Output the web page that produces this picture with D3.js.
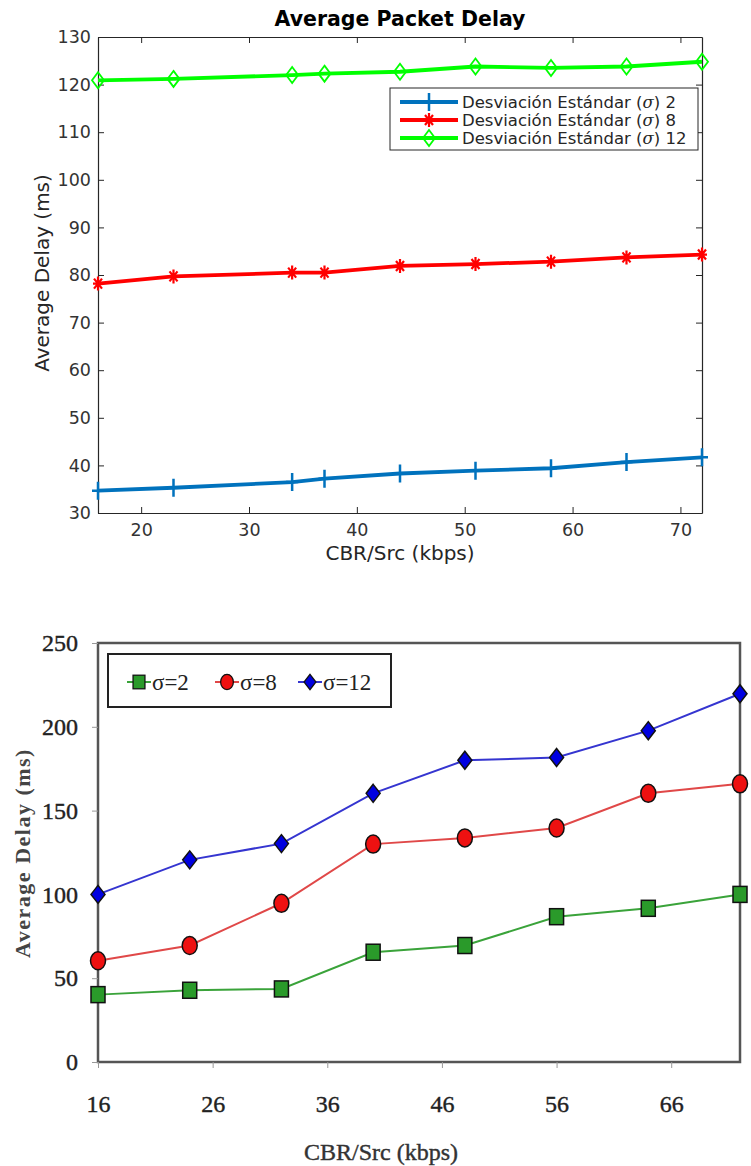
<!DOCTYPE html>
<meta charset="utf-8">
<head>
    <title>Average Packet Delay</title>
    <script type="text/javascript" src="https://cdn.jsdelivr.net/npm/d3@7/dist/d3.min.js"></script>
    <style>
        html, body { margin: 0; padding: 0; background: white; }
        svg { display: block; }
        .upper text { font-family: "DejaVu Sans", sans-serif; fill: #262626; }
        .lower text { font-family: "Liberation Serif", "Times New Roman", serif; fill: #333; }
    </style>
</head>
<body>
<svg id="chart" width="751" height="1166"></svg>
<script>
    // ---- data: upper chart (MATLAB style)
    var topX = [16, 23, 34, 37, 44, 51, 58, 65, 72];
    var topSigma2 = [34.7, 35.3, 36.5, 37.2, 38.3, 38.9, 39.4, 40.7, 41.7];
    var topSigma8 = [78.2, 79.7, 80.5, 80.5, 81.9, 82.3, 82.8, 83.7, 84.3];
    var topSigma12 = [120.9, 121.2, 122.0, 122.3, 122.7, 123.8, 123.5, 123.8, 124.8];
    var topXTicks = [20, 30, 40, 50, 60, 70];
    var topYTicks = [30, 40, 50, 60, 70, 80, 90, 100, 110, 120, 130];
    var topLegend = ["2", "8", "12"];

    // ---- data: lower chart
    var botX = [16, 24, 32, 40, 48, 56, 64, 72];
    var botSigma2 = [40.2, 42.8, 43.6, 65.5, 69.5, 86.7, 91.7, 100];
    var botSigma8 = [60.4, 69.5, 94.7, 130, 133.7, 139.6, 160.3, 166];
    var botSigma12 = [100, 120.6, 130.3, 160.3, 180, 181.7, 197.7, 219.7];
    var botXTicks = [16, 26, 36, 46, 56, 66];
    var botYTicks = [0, 50, 100, 150, 200, 250];
    var botLegend = ["σ=2", "σ=8", "σ=12"];

    var svg = d3.select("#chart");

    // ================= UPPER CHART =================
    var up = svg.append("g").attr("class", "upper");
    var tx = d3.scaleLinear().domain([16, 72]).range([98, 702]);
    var ty = d3.scaleLinear().domain([30, 130]).range([513, 37]);

    up.append("text").attr("x", 400).attr("y", 26)
        .attr("text-anchor", "middle").attr("font-size", 20.5).attr("font-weight", "bold")
        .style("fill", "#000").text("Average Packet Delay");

    // axes (ticks inward, mirrored)
    var axB = up.append("g").attr("transform", "translate(0,513)")
        .call(d3.axisBottom(tx).tickValues(topXTicks).tickSizeInner(-6).tickSizeOuter(0).tickPadding(11));
    var axT = up.append("g").attr("transform", "translate(0,37)")
        .call(d3.axisTop(tx).tickValues(topXTicks).tickSizeInner(-6).tickSizeOuter(0).tickFormat(""));
    var axL = up.append("g").attr("transform", "translate(98,0)")
        .call(d3.axisLeft(ty).tickValues(topYTicks).tickSizeInner(-6).tickSizeOuter(0).tickPadding(7));
    var axR = up.append("g").attr("transform", "translate(702,0)")
        .call(d3.axisRight(ty).tickValues(topYTicks).tickSizeInner(-6).tickSizeOuter(0).tickFormat(""));
    [axB, axT, axL, axR].forEach(function(a) {
        a.select(".domain").attr("stroke", "#262626").attr("stroke-width", 1.2);
        a.selectAll(".tick line").attr("stroke", "#262626");
        a.selectAll(".tick text").attr("font-size", 17.5).attr("font-family", "DejaVu Sans").style("fill", "#333");
    });

    up.append("text").attr("transform", "translate(49,273) rotate(-90)")
        .attr("text-anchor", "middle").attr("font-size", 20).text("Average Delay (ms)");
    up.append("text").attr("x", 400).attr("y", 560)
        .attr("text-anchor", "middle").attr("font-size", 20).text("CBR/Src (kbps)");

    var topSeries = [
        {vals: topSigma2, color: "#0072BD", marker: "plus"},
        {vals: topSigma8, color: "#FF0000", marker: "star"},
        {vals: topSigma12, color: "#00FF00", marker: "diamond"}
    ];

    function topMarker(g, type, color) {
        if (type === "plus") {
            g.append("path").attr("d", "M-6,0H6M0,-9V9").attr("stroke", color).attr("stroke-width", 2.5).attr("fill", "none");
        } else if (type === "star") {
            g.append("path").attr("d", "M-5,0H5M0,-7V7M-4,-5L4,5M-4,5L4,-5").attr("stroke", color).attr("stroke-width", 2.2).attr("fill", "none");
        } else {
            g.append("path").attr("d", "M0,-8L6,0L0,8L-6,0Z").attr("stroke", color).attr("stroke-width", 1.8).attr("fill", "none");
        }
    }

    var tline = d3.line().x(function(d, i) { return tx(topX[i]); }).y(function(d) { return ty(d); });
    topSeries.forEach(function(s) {
        up.append("path").datum(s.vals).attr("d", tline)
            .attr("fill", "none").attr("stroke", s.color).attr("stroke-width", 3.8);
        s.vals.forEach(function(v, i) {
            var g = up.append("g").attr("transform", "translate(" + tx(topX[i]) + "," + ty(v) + ")");
            topMarker(g, s.marker, s.color);
        });
    });

    // legend
    var tleg = up.append("g");
    tleg.append("rect").attr("x", 390).attr("y", 88).attr("width", 308).attr("height", 62)
        .attr("fill", "white").attr("stroke", "#262626").attr("stroke-width", 1);
    topSeries.forEach(function(s, i) {
        var yy = 102 + i * 18;
        tleg.append("line").attr("x1", 400).attr("x2", 458).attr("y1", yy).attr("y2", yy)
            .attr("stroke", s.color).attr("stroke-width", 3.8);
        var g = tleg.append("g").attr("transform", "translate(429," + yy + ")");
        topMarker(g, s.marker, s.color);
        var t = tleg.append("text").attr("x", 462).attr("y", yy + 6).attr("font-size", 16.5);
        t.append("tspan").text("Desviación Estándar (");
        t.append("tspan").attr("font-style", "italic").attr("font-family", "DejaVu Serif").text("σ");
        t.append("tspan").text(") " + topLegend[i]);
    });

    // ================= LOWER CHART =================
    var low = svg.append("g").attr("class", "lower");
    var bx = d3.scaleLinear().domain([16, 72]).range([98, 740]);
    var by = d3.scaleLinear().domain([0, 250]).range([1062, 643]);

    low.append("rect").attr("x", 98).attr("y", 643).attr("width", 642).attr("height", 419)
        .attr("fill", "none").attr("stroke", "#555").attr("stroke-width", 2.5);

    var bL = low.append("g").attr("transform", "translate(98,0)")
        .call(d3.axisLeft(by).tickValues(botYTicks).tickSize(6).tickPadding(14));
    var bB = low.append("g").attr("transform", "translate(0,1062)")
        .call(d3.axisBottom(bx).tickValues(botXTicks).tickSize(6).tickPadding(27));
    [bL, bB].forEach(function(a) {
        a.select(".domain").remove();
        a.selectAll(".tick line").attr("stroke", "#999");
        a.selectAll(".tick text").attr("font-size", 24).attr("font-family", "Liberation Serif")
            .style("fill", "#222").style("stroke", "#222").style("stroke-width", 0.4);
    });

    low.append("text").attr("transform", "translate(30,853) rotate(-90)")
        .attr("text-anchor", "middle").attr("font-size", 22).attr("font-weight", "bold")
        .attr("letter-spacing", 1.5)
        .style("fill", "#444").text("Average Delay (ms)");
    low.append("text").attr("x", 381).attr("y", 1160)
        .attr("text-anchor", "middle").attr("font-size", 24)
        .style("fill", "#333").style("stroke", "#333").style("stroke-width", 0.4).text("CBR/Src (kbps)");

    var botSeries = [
        {vals: botSigma2, line: "#3aa33a", fill: "#2a9a2a", marker: "square"},
        {vals: botSigma8, line: "#e04848", fill: "#ee1111", marker: "circle"},
        {vals: botSigma12, line: "#3535d0", fill: "#0000e0", marker: "diamond"}
    ];

    function botMarker(g, type, fill) {
        var m;
        if (type === "square") {
            m = g.append("rect").attr("x", -7).attr("y", -8).attr("width", 14).attr("height", 16);
        } else if (type === "circle") {
            m = g.append("ellipse").attr("rx", 7.5).attr("ry", 9);
        } else {
            m = g.append("path").attr("d", "M0,-9L7,0L0,9L-7,0Z");
        }
        m.attr("fill", fill).attr("stroke", "#111").attr("stroke-width", 1.5);
    }

    var bline = d3.line().x(function(d, i) { return bx(botX[i]); }).y(function(d) { return by(d); });
    botSeries.forEach(function(s) {
        low.append("path").datum(s.vals).attr("d", bline)
            .attr("fill", "none").attr("stroke", s.line).attr("stroke-width", 2);
        s.vals.forEach(function(v, i) {
            var g = low.append("g").attr("transform", "translate(" + bx(botX[i]) + "," + by(v) + ")");
            botMarker(g, s.marker, s.fill);
        });
    });

    // legend
    var bleg = low.append("g");
    bleg.append("rect").attr("x", 108).attr("y", 654).attr("width", 283).attr("height", 53)
        .attr("fill", "white").attr("stroke", "#222").attr("stroke-width", 2);
    var legX = [127, 215, 298];
    botSeries.forEach(function(s, i) {
        var yy = 682;
        bleg.append("line").attr("x1", legX[i]).attr("x2", legX[i] + 24).attr("y1", yy).attr("y2", yy)
            .attr("stroke", s.line).attr("stroke-width", 2);
        var g = bleg.append("g").attr("transform", "translate(" + (legX[i] + 12) + "," + yy + ") scale(0.85)");
        botMarker(g, s.marker, s.fill);
        bleg.append("text").attr("x", legX[i] + 25).attr("y", yy + 8)
            .attr("font-size", 23).style("fill", "#222").text(botLegend[i]);
    });
</script>
</body>
</html>
